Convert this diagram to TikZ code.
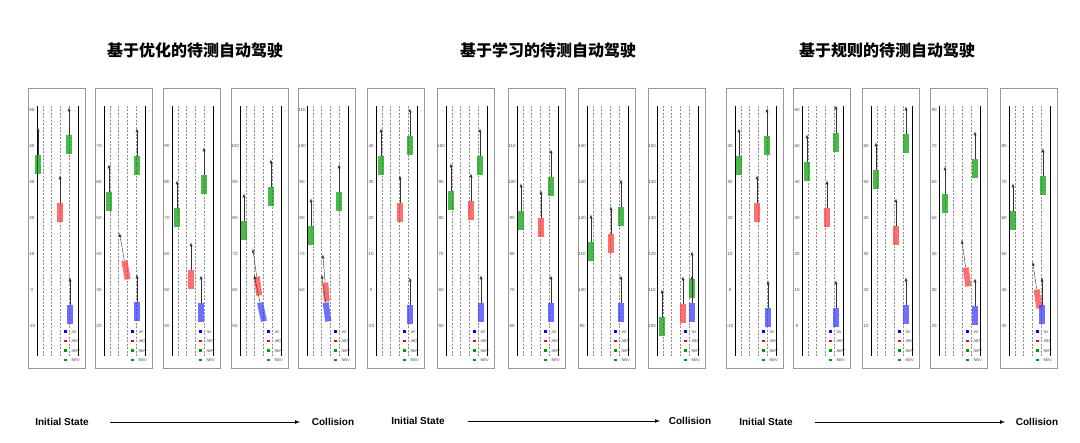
\documentclass[tikz,border=0pt]{standalone}
\usepackage{fontspec}
\usetikzlibrary{calc}
\setmainfont{Liberation Sans}
\newfontfamily\cjk{Noto Sans CJK SC}
\begin{document}
\begin{tikzpicture}[x=1pt,y=-1pt,
  frame/.style={draw=black!40,line width=0.6pt},
  lanebd/.style={black,line width=1pt},
  lanedash/.style={black!45,dash pattern=on 2pt off 1.5pt,line width=0.3pt},
  veh/.style={minimum width=6pt,minimum height=19pt,inner sep=0pt,opacity=0.7},
  mv/.style={-latex,line width=0.4pt,black!80},
  tick/.style={font=\fontsize{4.5}{5}\selectfont,text=black!70},
  leg/.style={font=\fontsize{4}{5}\selectfont,anchor=west,text=black!70},
  ttl/.style={font=\cjk\bfseries\fontsize{16}{18}\selectfont},
  bot/.style={font=\bfseries\fontsize{10}{12}\selectfont}]
\useasboundingbox (0,0) rectangle (1080,443);
\fill[white] (0,0) rectangle (1080,443);
\newcommand{\pnl}[3]{%
  \draw[frame] (#1,#2) rectangle ++(57,280);
  \draw[lanebd] (#1+9,#2+18) -- (#1+9,#2+268);
  \draw[lanebd] (#1+50,#2+18) -- (#1+50,#2+268);
  \foreach \d in {15,23,32,41}{\draw[lanedash] (#1+\d,#2+18) -- (#1+\d,#2+268);}
  \foreach \t [count=\i] in {#3}{\node[tick] at (#1+4,#2+22+\i*36-36) {\t};}
  \foreach \c/\l [count=\i] in {blue/AV,red/ABV,green!60!black/NBV,green!60!black/NBV}{
    \fill[\c] (#1+36,#2+233+\i*9.5) rectangle ++(2.5,2.5);
    \node[leg] at (#1+40,#2+234.3+\i*9.5) {\l};}
}
\newcommand{\veh}[5]{% x y color angle name
  \node[veh,fill=#3,rotate=#4] (#5) at (#1,#2) {};
  \draw[mv] (#5.north) -- ($(#5.north)!-28pt!(#5.south)$);
}
\node[ttl] (t1) at (195,50) {基于优化的待测自动驾驶};
\node[ttl] (t2) at (548,50) {基于学习的待测自动驾驶};
\node[ttl] (t3) at (887,50) {基于规则的待测自动驾驶};
% group 1
\pnl{28}{88}{50,40,30,20,10,0,-10,}
\veh{38}{165}{green!60!black}{0}{a1}\veh{69}{145}{green!60!black}{0}{a2}\veh{60}{213}{red!80}{0}{a3}\veh{70}{315}{blue!80}{0}{a4}
\pnl{95}{88}{,70,60,50,40,30,20}
\veh{109}{202}{green!60!black}{0}{b1}\veh{137}{166}{green!60!black}{0}{b2}\veh{126}{270}{red!80}{10}{b3}\veh{137}{312}{blue!80}{0}{b4}
\pnl{163}{88}{,90,80,70,60,50,40}
\veh{177}{218}{green!60!black}{0}{c1}\veh{204}{185}{green!60!black}{0}{c2}\veh{191}{280}{red!80}{0}{c3}\veh{201}{313}{blue!80}{0}{c4}
\pnl{231}{88}{,100,90,80,70,60,50}
\veh{244}{231}{green!60!black}{0}{d1}\veh{271}{197}{green!60!black}{0}{d2}\veh{258}{286}{red!80}{8}{d3}\veh{262}{312}{blue!80}{12}{d4}
\pnl{298}{88}{110,100,90,80,70,60,}
\veh{311}{236}{green!60!black}{0}{e1}\veh{339}{202}{green!60!black}{0}{e2}\veh{326}{292}{red!80}{5}{e3}\veh{327}{312}{blue!80}{8}{e4}
% group 2
\pnl{367}{88}{,40,30,20,10,0,-10}
\veh{381}{166}{green!60!black}{0}{f1}\veh{410}{146}{green!60!black}{0}{f2}\veh{400}{213}{red!80}{0}{f3}\veh{410}{315}{blue!80}{0}{f4}
\pnl{437}{88}{,100,90,80,70,60,50}
\veh{451}{201}{green!60!black}{0}{g1}\veh{480}{166}{green!60!black}{0}{g2}\veh{471}{211}{red!80}{0}{g3}\veh{481}{313}{blue!80}{0}{g4}
\pnl{508}{88}{,110,100,90,80,70,60}
\veh{521}{221}{green!60!black}{0}{h1}\veh{551}{187}{green!60!black}{0}{h2}\veh{541}{228}{red!80}{0}{h3}\veh{551}{313}{blue!80}{0}{h4}
\pnl{578}{88}{,140,130,120,110,100,90}
\veh{591}{252}{green!60!black}{0}{i1}\veh{621}{217}{green!60!black}{0}{i2}\veh{611}{244}{red!80}{0}{i3}\veh{621}{313}{blue!80}{0}{i4}
\pnl{648}{88}{,150,140,130,120,110,100}
\veh{662}{327}{green!60!black}{0}{j1}\veh{692}{289}{green!60!black}{0}{j2}\veh{683}{314}{red!80}{0}{j3}\veh{692}{313}{blue!80}{0}{j4}
% group 3
\pnl{726}{88}{,40,30,20,10,0,-10}
\veh{739}{166}{green!60!black}{0}{k1}\veh{767}{146}{green!60!black}{0}{k2}\veh{757}{213}{red!80}{0}{k3}\veh{768}{318}{blue!80}{0}{k4}
\pnl{793}{88}{60,50,40,30,20,10,0}
\veh{807}{172}{green!60!black}{0}{l1}\veh{836}{143}{green!60!black}{0}{l2}\veh{827}{218}{red!80}{0}{l3}\veh{836}{318}{blue!80}{0}{l4}
\pnl{862}{88}{,60,50,40,30,20,10}
\veh{876}{180}{green!60!black}{0}{m1}\veh{906}{144}{green!60!black}{0}{m2}\veh{896}{236}{red!80}{0}{m3}\veh{906}{315}{blue!80}{0}{m4}
\pnl{930}{88}{80,70,60,50,40,30,20}
\veh{945}{204}{green!60!black}{0}{n1}\veh{975}{169}{green!60!black}{0}{n2}\veh{967}{277}{red!80}{8}{n3}\veh{975}{316}{blue!80}{0}{n4}
\pnl{1000}{88}{,80,70,60,50,40,30}
\veh{1013}{221}{green!60!black}{0}{o1}\veh{1043}{186}{green!60!black}{0}{o2}\veh{1038}{299}{red!80}{8}{o3}\veh{1042}{315}{blue!80}{0}{o4}
% bottom
\node[bot] (s1) at (62,422) {Initial State};
\node[bot] (c1x) at (333,422) {Collision};
\draw[-latex,line width=0.7pt] (110,422) -- (300,422);
\node[bot] (s2) at (418,421) {Initial State};
\node[bot] (c2x) at (690,421) {Collision};
\draw[-latex,line width=0.7pt] (468,421) -- (660,421);
\node[bot] (s3) at (766,422) {Initial State};
\node[bot] (c3x) at (1037,422) {Collision};
\draw[-latex,line width=0.7pt] (815,422) -- (1005,422);
\end{tikzpicture}
\end{document}
